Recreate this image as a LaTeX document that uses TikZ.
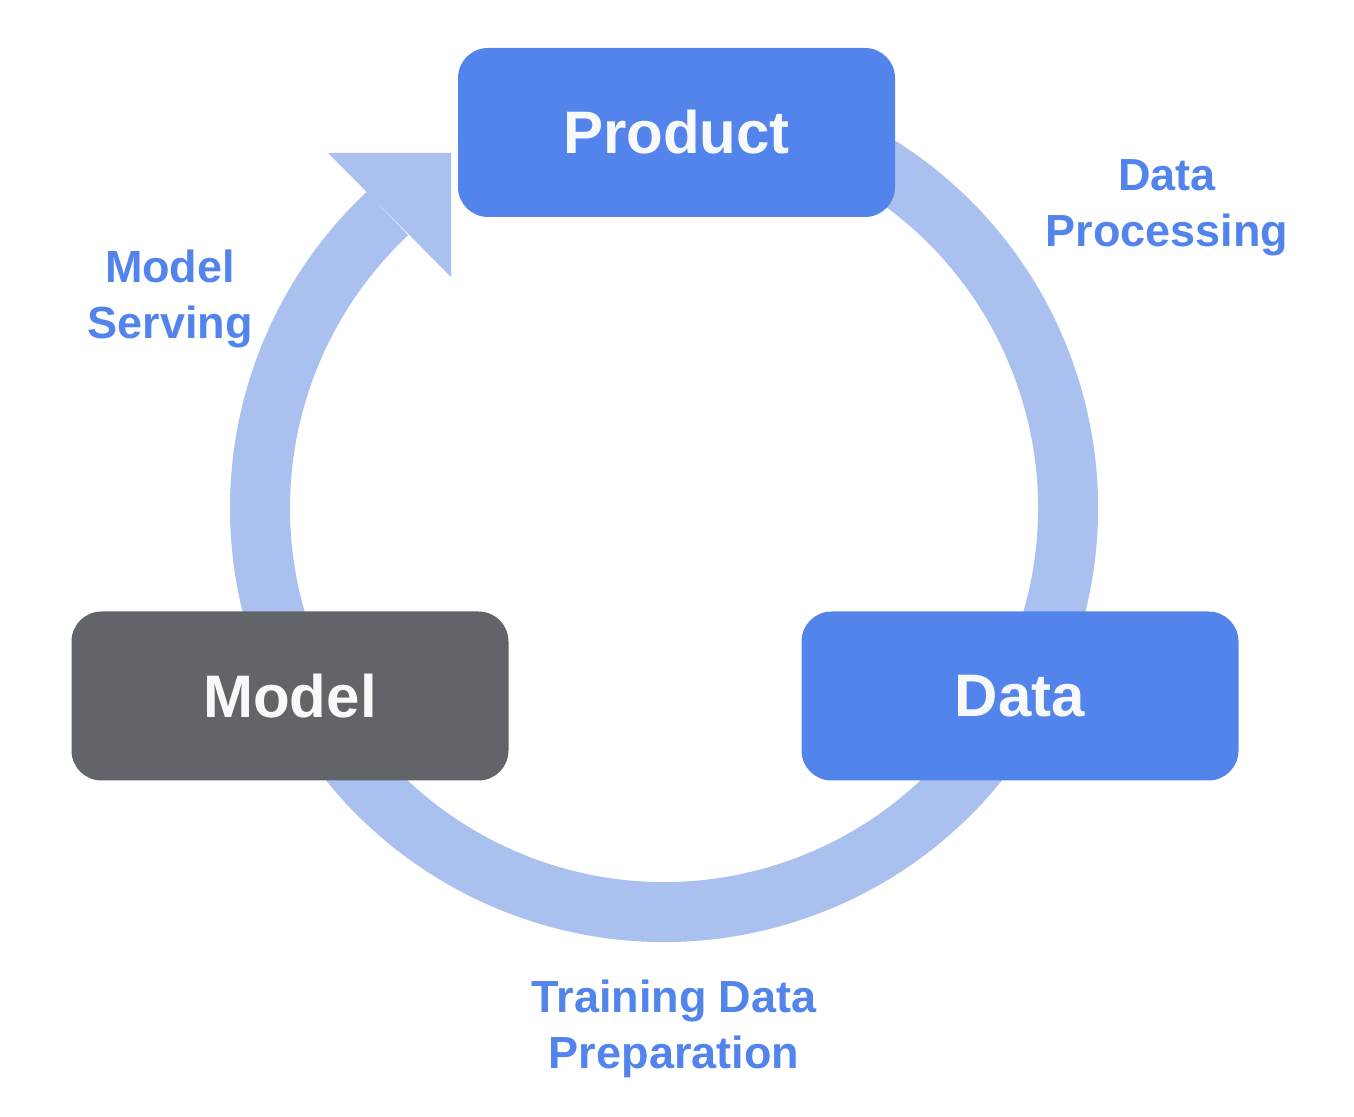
\documentclass[tikz,border=0pt]{standalone}
\usepackage{fontspec}
\setmainfont{Liberation Sans}
\usepackage{tikz}
\usetikzlibrary{positioning,calc}
\usepackage{xcolor}
\definecolor{stageblue}{HTML}{5384EC}
\definecolor{stagegray}{HTML}{616469}
\definecolor{ringblue}{HTML}{AAC1EF}
\definecolor{stagetext}{HTML}{F8F9FA}

\begin{document}
\begin{tikzpicture}[
  x=1pt, y=1pt,
  stagebox/.style={
    fill=#1,
    draw=none,
    rounded corners=30pt,
    minimum width=437pt,
    minimum height=169pt,
    inner sep=0pt,
    text=stagetext,
    font=\fontsize{60}{72}\selectfont\bfseries
  },
  steplabel/.style={
    text=stageblue,
    inner sep=0pt,
    align=center,
    font=\fontsize{45}{56}\selectfont\bfseries
  }
]

  \useasboundingbox (0,0) rectangle (1354,1116);

  % --- CYCLE RING ---
  \coordinate (ringc) at (664,608);
  \draw[ringblue, line width=60pt] ($(ringc)+(110:404)$) arc[start angle=110, end angle=-226.8, radius=404];

  % arrow head pointing into Product
  \coordinate (tip) at (451,963);
  \fill[ringblue] (tip) -- ++(-123,0) -- ++(123,-124) -- cycle;

  % --- STAGE BOXES ---
  \node[stagebox=stageblue] (product) at (676.5,983.5) {Product};
  \node[stagebox=stageblue] (data) at (1020,420) {Data};
  \node[stagebox=stagegray] (model) at (290,420) {Model};

  % --- STEP LABELS ---
  \node[steplabel] (processing) at (1167,908.5) {Data\\Processing};
  \node[steplabel] (preparation) at (674,87) {Training Data\\Preparation};
  \node[steplabel] (serving) at (170,817) {Model\\Serving};

\end{tikzpicture}
\end{document}
